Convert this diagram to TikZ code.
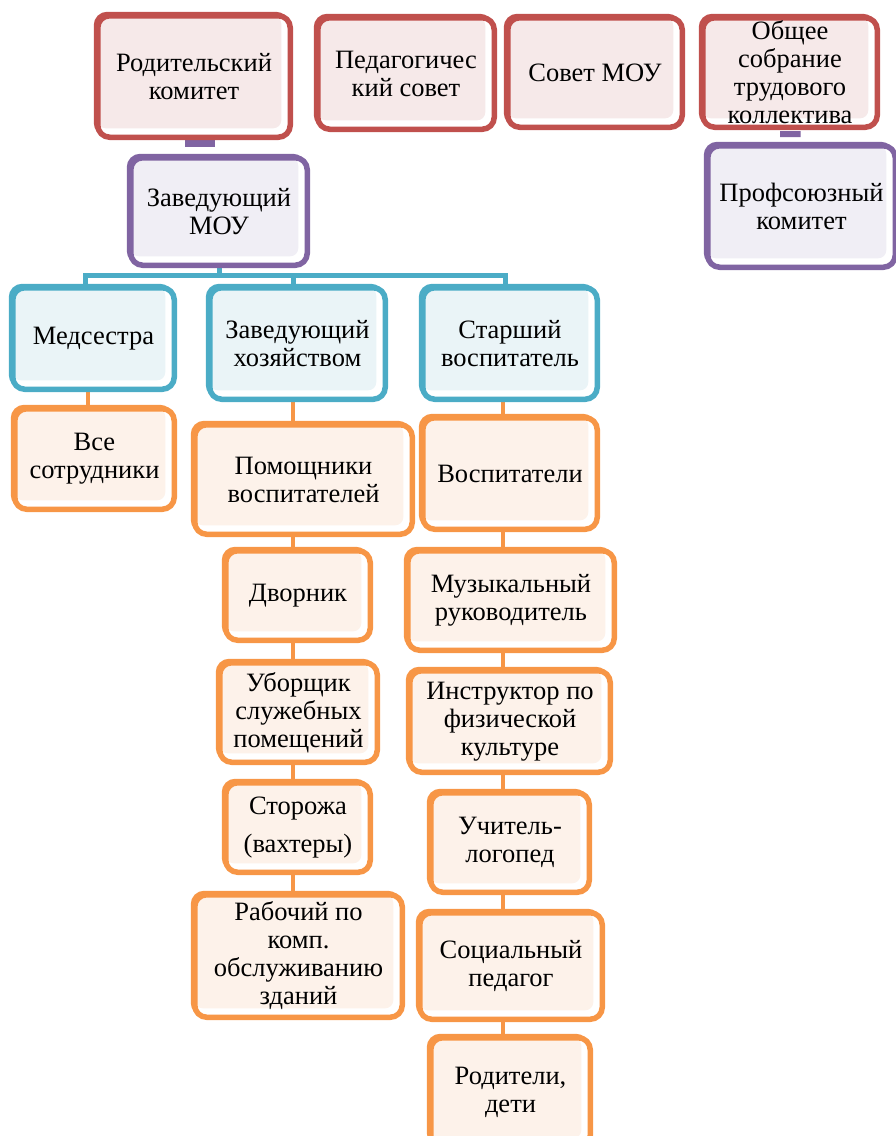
\documentclass[tikz,border=0pt]{standalone}
\usepackage{fontspec}
\setmainfont{Liberation Serif}
\usetikzlibrary{shadows,backgrounds,calc}
\definecolor{redB}{HTML}{C0504D}\definecolor{redF}{HTML}{F6E9E9}
\definecolor{purB}{HTML}{8064A2}\definecolor{purF}{HTML}{F0EEF5}
\definecolor{tealB}{HTML}{4BACC6}\definecolor{tealF}{HTML}{EAF4F7}
\definecolor{orB}{HTML}{F79646}\definecolor{orF}{HTML}{FDF2EA}
\tikzset{
  basebox/.style n args={2}{draw=#1, line width=5.5bp, rounded corners=12bp, fill=white,
    inner sep=0pt, align=center, font=\rmfamily\fontsize{26.5bp}{28bp}\selectfont,
    general shadow={draw=#1, fill=none, line width=3bp, shadow xshift=-2.5bp, shadow yshift=2.5bp},
    path picture={\fill[#2, rounded corners=8bp] (path picture bounding box.north west) rectangle ([xshift=-9bp,yshift=9bp]path picture bounding box.south east);}},
  redbox/.style={basebox={redB}{redF}},
  purbox/.style={basebox={purB}{purF}},
  tealbox/.style={basebox={tealB}{tealF}},
  orbox/.style={basebox={orB}{orF}},
  oconn/.style={draw=orB, line width=4.5bp},
  tconn/.style={draw=tealB, line width=5bp},
  pconn/.style={draw=purB, line cap=butt},
}
\newcommand\ob[7]{\node[#2, minimum width={(#5-#3-5.5)*1bp}, minimum height={(#6-#4-5.5)*1bp}] (#1) at ({(#3+#5)/2},{(#4+#6)/2}) {#7};}
\begin{document}
\begin{tikzpicture}[x=1bp,y=-1bp]
\useasboundingbox (0,0) rectangle (896,1136);
\ob{rk}{redbox}{95}{13}{293}{140}{Родительский\\комитет}
\ob{ps}{redbox}{315}{15}{497}{132}{Педагогичес\\кий совет}
\ob{sm}{redbox}{505}{15}{685}{130}{Совет МОУ}
\ob{os}{redbox}{700}{15}{880}{130}{Общее\\собрание\\трудового\\коллектива}
\ob{zm}{purbox}{128}{155}{310}{268}{Заведующий\\МОУ}
\ob{pk}{purbox}{705}{143}{898}{270}{Профсоюзный\\комитет}
\ob{med}{tealbox}{10}{285}{177}{392}{Медсестра}
\ob{zh}{tealbox}{207}{285}{388}{402}{Заведующий\\хозяйством}
\ob{st}{tealbox}{420}{285}{600}{402}{Старший\\воспитатель}
\ob{vs}{orbox}{12}{406}{177}{512}{Все\\сотрудники}
\ob{pv}{orbox}{192}{422}{415}{537}{Помощники\\воспитателей}
\ob{vo}{orbox}{420}{415}{600}{532}{Воспитатели}
\ob{dv}{orbox}{223}{548}{373}{643}{Дворник}
\ob{mr}{orbox}{405}{548}{617}{653}{Музыкальный\\руководитель}
\ob{ub}{orbox}{217}{660}{380}{765}{Уборщик\\служебных\\помещений}
\ob{ins}{orbox}{407}{668}{613}{775}{Инструктор по\\физической\\культуре}
\ob{sg}{orbox}{223}{780}{373}{875}{Сторожа\\[10bp](вахтеры)}
\ob{ul}{orbox}{428}{790}{592}{895}{Учитель-\\логопед}
\ob{rb}{orbox}{192}{892}{405}{1020}{Рабочий по\\комп.\\обслуживанию\\зданий}
\ob{sp}{orbox}{417}{910}{605}{1022}{Социальный\\педагог}
\ob{rd}{orbox}{428}{1035}{593}{1150}{Родители,\\дети}
\coordinate (cx1) at (88,0);
\coordinate (cx2) at (293,0);
\coordinate (cx3) at (503,0);
\coordinate (bl) at (85,275);
\coordinate (br) at (505,275);
\begin{scope}[on background layer]
\draw[pconn, line width=9bp] ($(rk.south)+(-9,2.5)$) -- ($(zm.north)+(-4,-12.5)$);
\draw[pconn, line width=6bp] ($(os.south)+(-10,4)$) -- ($(pk.north)+(-1,-9)$);
\draw[tconn] (zm.south) -- (zm.south |- bl);
\draw[tconn] (bl |- med.north) -- (bl) -- (br) -- (br |- st.north);
\draw[tconn] (bl -| cx2) -- (cx2 |- zh.north);
\foreach \a/\b/\c in {med/vs/cx1, zh/pv/cx2, pv/dv/cx2, dv/ub/cx2, ub/sg/cx2, sg/rb/cx2,
  st/vo/cx3, vo/mr/cx3, mr/ins/cx3, ins/ul/cx3, ul/sp/cx3, sp/rd/cx3}
  \draw[oconn] (\a.south -| \c) -- (\b.north -| \c);
\end{scope}
\end{tikzpicture}
\end{document}
